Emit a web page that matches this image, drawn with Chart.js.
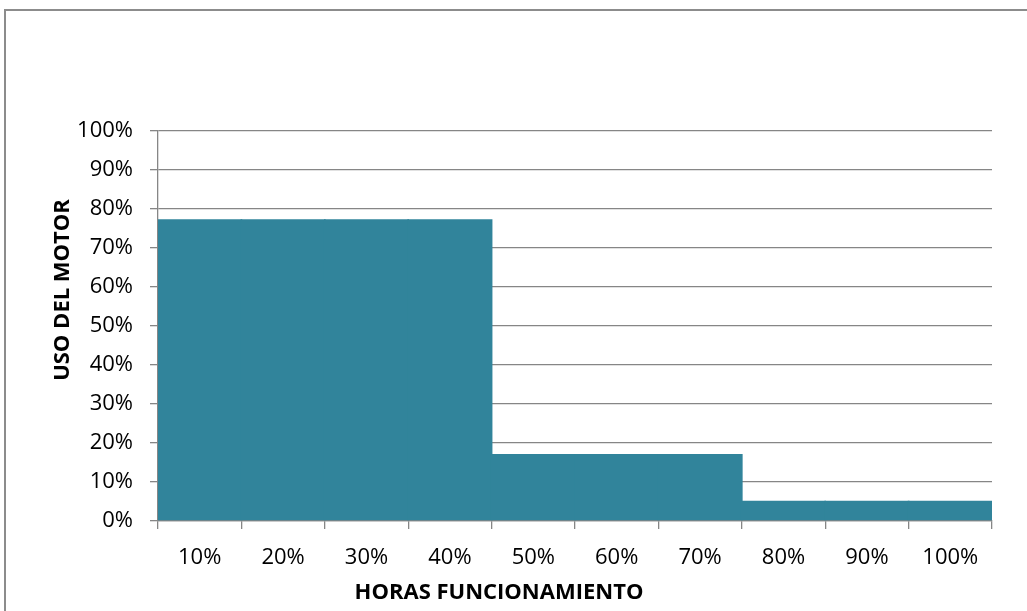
<!DOCTYPE html>
<html>
<head>
<meta charset="utf-8">
<script src="https://cdn.jsdelivr.net/npm/chart.js@4/dist/chart.umd.min.js"></script>
<style>
  html, body { margin: 0; padding: 0; background: #fff; overflow: hidden; }
  #frame {
    position: absolute; left: 4px; top: 9px; width: 1100px; height: 700px;
    border: 2px solid #8c8c8c; box-sizing: border-box;
  }
  #wrap { position: absolute; left: 0; top: 0; width: 1027px; height: 611px; }
</style>
</head>
<body>
<div id="frame"></div>
<div id="wrap"><canvas id="chart" width="1027" height="611"></canvas></div>
<script>
// ---- data ----
const CATEGORIES = ["10%", "20%", "30%", "40%", "50%", "60%", "70%", "80%", "90%", "100%"];
const USO_MOTOR = [77.4, 77.4, 77.4, 77.4, 17.2, 17.2, 17.2, 5.2, 5.2, 5.2];
const Y_TICKS = [0, 10, 20, 30, 40, 50, 60, 70, 80, 90, 100];

const X_TITLE = "HORAS FUNCIONAMIENTO";
const Y_TITLE = "USO DEL MOTOR";

const BAR_COLOR = "#31849b";
const GRID_COLOR = "#868686";
const FONT = "'Open Sans', 'DejaVu Sans', sans-serif";

// axis titles are placed by hand (Excel-ish placement, not centered on the plot)
const axisTitles = {
  id: "axisTitles",
  afterDraw(chart) {
    const ctx = chart.ctx;
    ctx.save();
    ctx.fillStyle = "#000";
    ctx.font = "bold 22px " + FONT;
    ctx.textAlign = "center";
    ctx.textBaseline = "middle";
    ctx.fillText(X_TITLE, 499, 593);
    ctx.translate(63, 290);
    ctx.rotate(-Math.PI / 2);
    ctx.fillText(Y_TITLE, 0, 0);
    ctx.restore();
  }
};

new Chart(document.getElementById("chart"), {
  type: "bar",
  data: {
    labels: CATEGORIES,
    datasets: [{
      data: USO_MOTOR,
      backgroundColor: BAR_COLOR,
      borderWidth: 0,
      // slight overlap so neighbouring columns merge without seams
      barPercentage: 1.02,
      categoryPercentage: 1
    }]
  },
  options: {
    responsive: false,
    animation: false,
    layout: { padding: { left: 0, right: 35, top: 131, bottom: 0 } },
    plugins: {
      legend: { display: false },
      tooltip: { enabled: false }
    },
    scales: {
      x: {
        offset: true,
        grid: {
          offset: true,
          drawOnChartArea: false,
          drawTicks: true,
          tickLength: 8,
          color: GRID_COLOR,
          lineWidth: 1.3
        },
        border: { color: GRID_COLOR, width: 1.3 },
        ticks: {
          color: "#000",
          font: { family: FONT, size: 22 },
          padding: 16,
          maxRotation: 0,
          autoSkip: false
        },
        afterFit(scale) { scale.height = 90; }
      },
      y: {
        min: 0,
        max: 100,
        afterBuildTicks(scale) { scale.ticks = Y_TICKS.map(v => ({ value: v })); },
        grid: {
          color: GRID_COLOR,
          lineWidth: 1.3,
          tickLength: 8
        },
        border: { color: GRID_COLOR, width: 1.3 },
        ticks: {
          color: "#000",
          font: { family: FONT, size: 22 },
          padding: 17,
          callback: v => v + "%"
        },
        afterFit(scale) { scale.width = 158; }
      }
    }
  },
  plugins: [axisTitles]
});
</script>
</body>
</html>
